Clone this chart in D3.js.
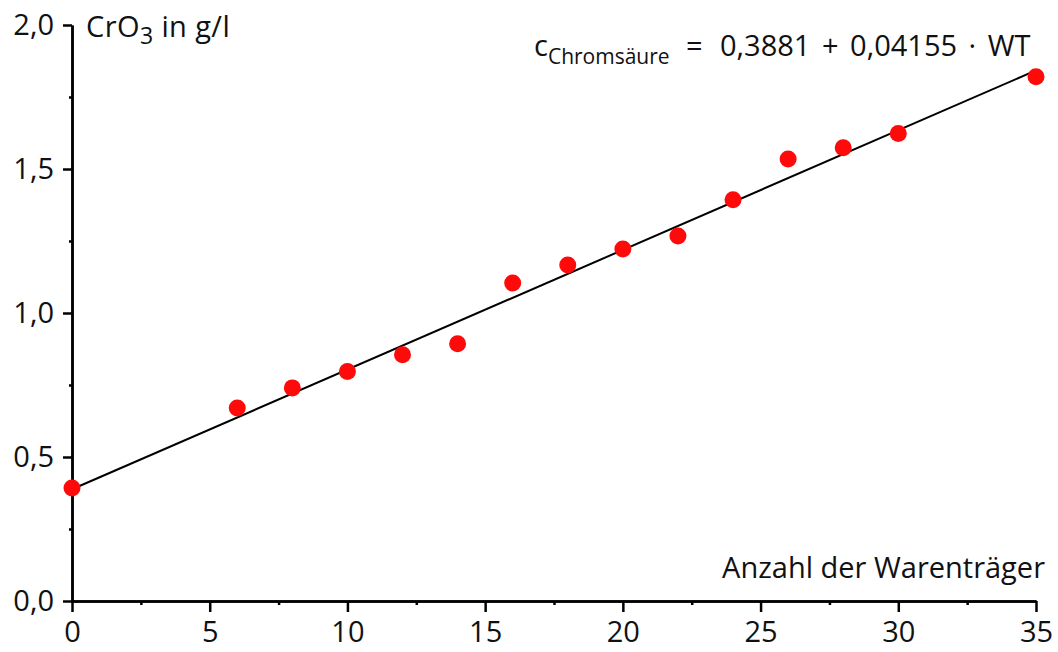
<!DOCTYPE html>
<html lang="de">
<head>
  <meta charset="UTF-8">
  <title>CrO3 in g/l</title>
  <script src="https://d3js.org/d3.v7.min.js"></script>
  <style>
    body { margin: 0; background: white; font-family: "Open Sans", "Noto Sans", sans-serif; }
    svg text { fill: #111; }
  </style>
</head>
<body>
  <svg id="chart" width="1058" height="652"></svg>

  <script>
    // Anzahl der Warenträger (WT) and measured CrO3 (g/l)
    const wtValues = [0, 6, 8, 10, 12, 14, 16, 18, 20, 22, 24, 26, 28, 30, 35];
    const cro3Values = [0.392, 0.670, 0.740, 0.797, 0.855, 0.893, 1.104, 1.167, 1.222, 1.267, 1.393, 1.535, 1.574, 1.623, 1.820];

    const xTicks = [0, 5, 10, 15, 20, 25, 30, 35];
    const xMinorTicks = [2.5, 7.5, 12.5, 17.5, 22.5, 27.5, 32.5];
    const yTicks = [0, 0.5, 1.0, 1.5, 2.0];
    const yMinorTicks = [0.25, 0.75, 1.25, 1.75];

    const intercept = 0.3881;
    const slope = 0.04155;

    const svg = d3.select("#chart");
    const fmt = d => d3.format(".1f")(d).replace(".", ",");

    const x = d3.scaleLinear().domain([0, 35]).range([72, 1036]);
    const y = d3.scaleLinear().domain([0, 2]).range([601, 25]);

    // axes
    const xAxis = svg.append("g")
      .attr("transform", "translate(0," + y(0) + ")")
      .call(d3.axisBottom(x).tickValues(xTicks).tickSize(11).tickSizeOuter(0).tickPadding(10).tickFormat(d => d));
    const xMinor = svg.append("g")
      .attr("transform", "translate(0," + y(0) + ")")
      .call(d3.axisBottom(x).tickValues(xMinorTicks).tickSize(4).tickSizeOuter(0).tickFormat(""));

    const yAxis = svg.append("g")
      .attr("transform", "translate(" + x(0) + ",0)")
      .call(d3.axisLeft(y).tickValues(yTicks).tickSize(9).tickSizeOuter(0).tickPadding(9).tickFormat(fmt));
    const yMinor = svg.append("g")
      .attr("transform", "translate(" + x(0) + ",0)")
      .call(d3.axisLeft(y).tickValues(yMinorTicks).tickSize(3).tickSizeOuter(0).tickFormat(""));

    [xAxis, xMinor, yAxis, yMinor].forEach(a => {
      a.select(".domain").attr("stroke", "#000").attr("stroke-width", 2.5);
      a.selectAll(".tick line").attr("stroke", "#000").attr("stroke-width", 2.5);
      a.selectAll(".tick text")
        .style("font-family", "'Open Sans', sans-serif")
        .style("font-size", "29px")
        .attr("fill", "#111");
    });
    xAxis.selectAll(".tick text").attr("dy", "0.7em");

    // regression line
    const lineData = [0, 35].map(v => ({ wt: v, c: intercept + slope * v }));
    svg.append("path")
      .datum(lineData)
      .attr("fill", "none")
      .attr("stroke", "#000")
      .attr("stroke-width", 2)
      .attr("d", d3.line().x(d => x(d.wt)).y(d => y(d.c)));

    // points
    svg.append("g")
      .selectAll("circle")
      .data(wtValues.map((v, i) => ({ wt: v, c: cro3Values[i] })))
      .enter().append("circle")
      .attr("cx", d => x(d.wt))
      .attr("cy", d => y(d.c))
      .attr("r", 8.5)
      .attr("fill", "#ff0a0a");

    // labels
    const yLabel = svg.append("text")
      .attr("x", 86)
      .attr("y", 37)
      .style("font-size", "29px")
      .style("letter-spacing", "0.4px");
    yLabel.append("tspan").text("CrO");
    yLabel.append("tspan").attr("dy", 7).style("font-size", "23px").text("3");
    yLabel.append("tspan").attr("dy", -7).attr("xml:space", "preserve").text(" in g/l");

    svg.append("text")
      .attr("x", 1045)
      .attr("y", 578)
      .attr("text-anchor", "end")
      .style("font-size", "29px")
      .text("Anzahl der Warenträger");

    const formula = svg.append("text")
      .attr("y", 56)
      .style("font-size", "29px");
    formula.append("tspan").attr("x", 534).text("c");
    formula.append("tspan").attr("dy", 8).style("font-size", "21px").text("Chromsäure");
    formula.append("tspan").attr("x", 686).attr("dy", -8).text("=");
    formula.append("tspan").attr("x", 720).style("word-spacing", "4px").text("0,3881 + 0,04155 · WT");
  </script>
</body>
</html>
